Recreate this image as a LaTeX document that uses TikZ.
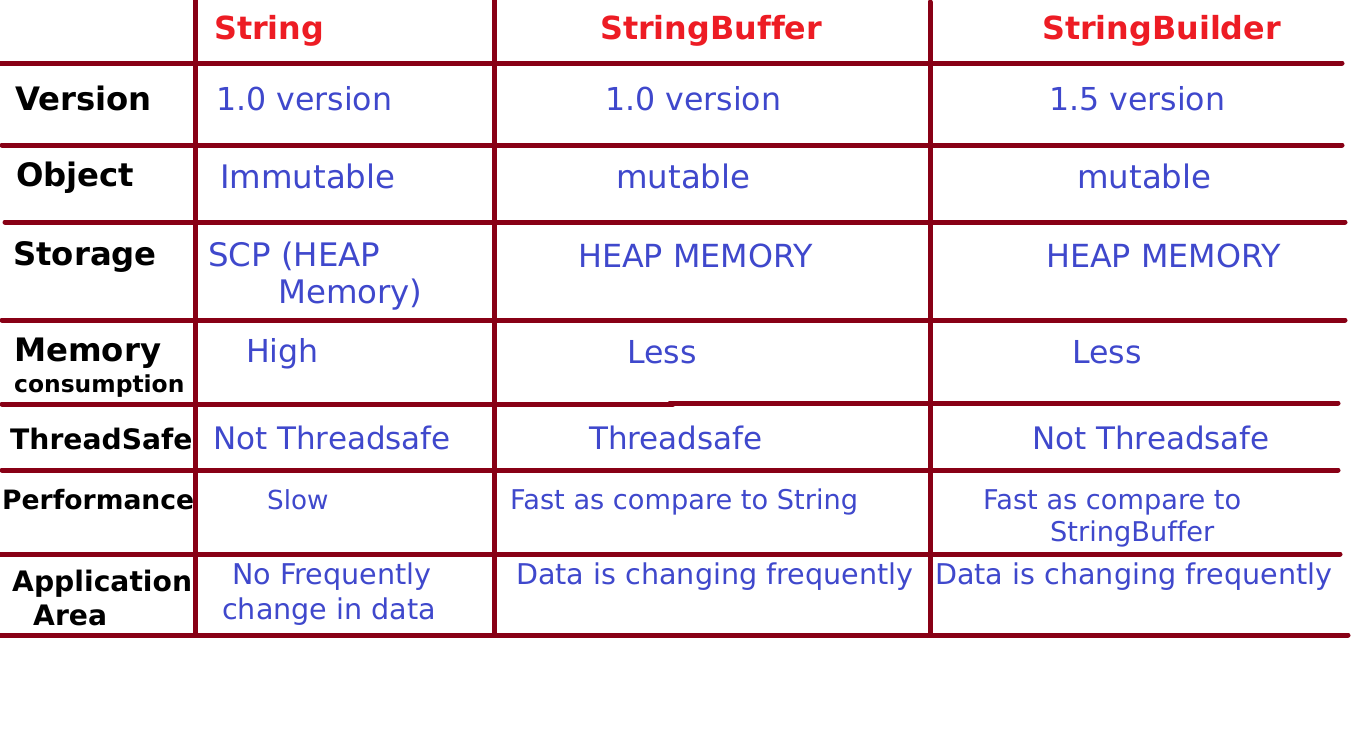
\documentclass[tikz,border=0pt]{standalone}
\usepackage{fontspec}
\setmainfont{DejaVu Sans}[Ligatures=NoCommon]
\usepackage{tikz}
\definecolor{gridred}{HTML}{880015}
\definecolor{headred}{HTML}{ED1C24}
\definecolor{cellblue}{HTML}{3F48CC}
\tikzset{
	head/.style={anchor=base west,inner sep=0pt,text=headred,font=\fontsize{31.8}{37}\selectfont\bfseries},
	lab/.style={anchor=base west,inner sep=0pt,text=black,font=\fontsize{#1}{#1}\selectfont\bfseries},
	lab/.default=32.3,
	cell/.style={anchor=base west,inner sep=0pt,text=cellblue,font=\fontsize{#1}{#1}\selectfont},
	cell/.default=31.6,
	gridline/.style={gridred,line width=5pt,line cap=round}
}

\begin{document}
\begin{tikzpicture}[x=1pt,y=-1pt]
		\useasboundingbox[fill=white] (0,0) rectangle (1360,737);
		\begin{scope}[gridline]
			\draw (0,63) to (1342,63);
			\draw (2,145) to (1342,145);
			\draw (5,222) to (1345,222);
			\draw (2,320) to (1345,320);
			\draw (2,404) to (673,404);
			\draw (670,403) to (1338,403);
			\draw (2,470) to (1338,470);
			\draw (0,554) to (1340,554);
			\draw (0,635) to (1348,635);
			\draw (195,0) to (195,635);
			\draw (494,0) to (494,635);
			\draw (930,2) to (930,635);
		\end{scope}

		\node[head] (h1) at (214,39) {String};
		\node[head] (h2) at (600,39) {StringBuffer};
		\node[head] (h3) at (1042,39) {StringBuilder};

		\node[lab] (A) at (15,110) {Version};
		\node[lab] (B) at (16,186) {Object};
		\node[lab] (C) at (13,265) {Storage};
		\node[lab] (D) at (14,361) {Memory};
		\node[lab=23.4] (D2) at (14,392) {consumption};
		\node[lab=28.2] (E) at (10,449) {ThreadSafe};
		\node[lab=26.6] (F) at (2,509) {Performance};
		\node[lab=28.2] (G) at (12,591) {Application};
		\node[lab=28.2] (G2) at (33,625) {Area};

		\node[cell] (A1) at (216,110) {1.0 version};
		\node[cell] (A2) at (605,110) {1.0 version};
		\node[cell] (A3) at (1049,110) {1.5 version};
		\node[cell=32.4] (B1) at (220,188) {Immutable};
		\node[cell=32.4] (B2) at (616,188) {mutable};
		\node[cell=32.4] (B3) at (1077,188) {mutable};
		\node[cell=32.4] (C1) at (208,266) {SCP (HEAP};
		\node[cell=32.4] (C1b) at (278,303) {Memory)};
		\node[cell=31.8] (C2) at (578,267) {HEAP MEMORY};
		\node[cell=31.8] (C3) at (1046,267) {HEAP MEMORY};
		\node[cell] (D1) at (246,362) {High};
		\node[cell] (D2a) at (627,363) {Less};
		\node[cell] (D3) at (1072,363) {Less};
		\node[cell=31] (E1) at (213,449) {Not Threadsafe};
		\node[cell=31] (E2) at (589,449) {Threadsafe};
		\node[cell=31] (E3) at (1032,449) {Not Threadsafe};
		\node[cell=26.2] (F1) at (267,509) {Slow};
		\node[cell=27.2] (F2) at (510,509) {Fast as compare to String};
		\node[cell=27.2] (F3) at (983,509) {Fast as compare to};
		\node[cell=27.2] (F3b) at (1050,541) {StringBuffer};
		\node[cell=28.6] (G1) at (232,584) {No Frequently};
		\node[cell=28.6] (G1b) at (222,619) {change in data};
		\node[cell=28.6] (G2a) at (516,584) {Data is changing frequently};
		\node[cell=28.6] (G3) at (935,584) {Data is changing frequently};
	\end{tikzpicture}
\end{document}
